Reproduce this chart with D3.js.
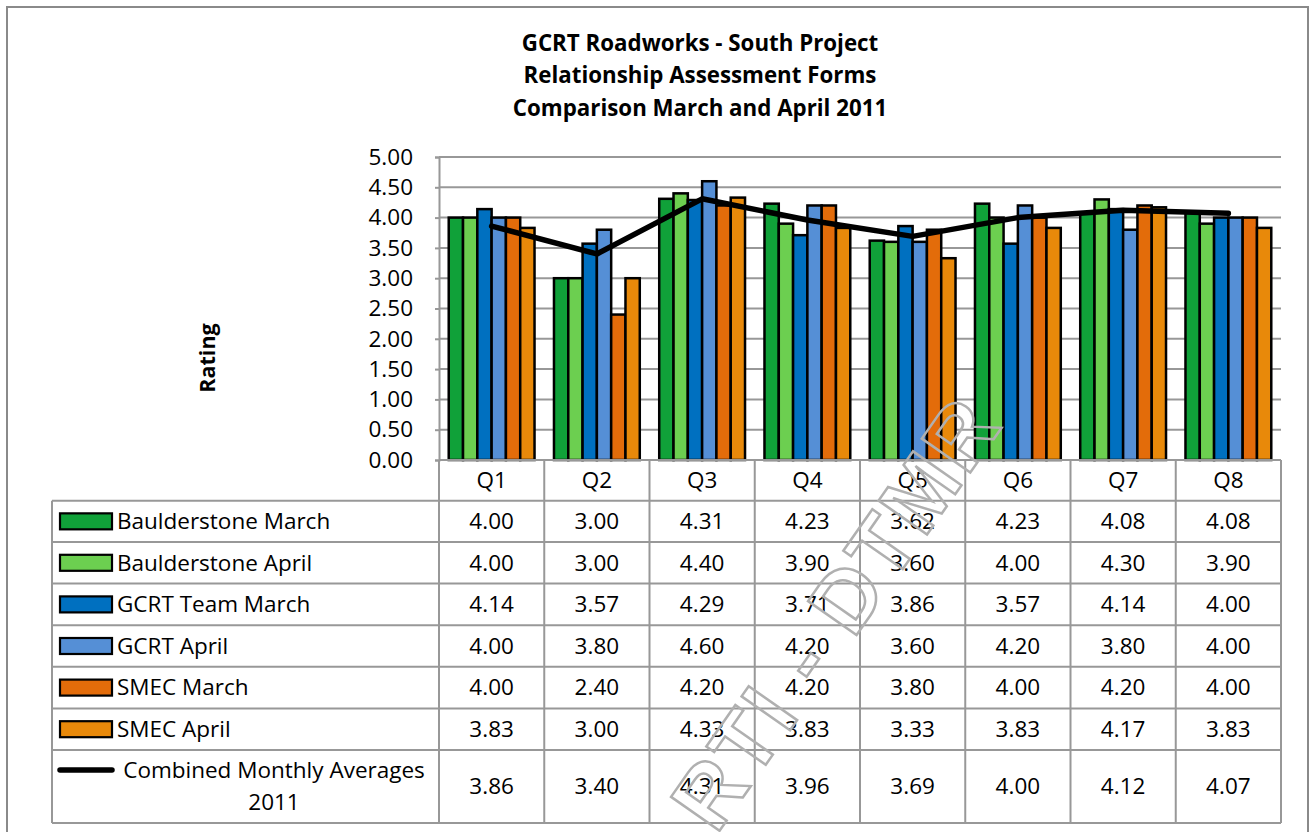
<!DOCTYPE html>
<html><head><meta charset="utf-8">
<script src="https://cdn.jsdelivr.net/npm/d3@7"></script>
<style>
html,body{margin:0;padding:0;background:#fff;}
svg text{font-family:"Open Sans",sans-serif;fill:#000;}
</style></head>
<body><svg id="c" width="1311" height="832"></svg>
<script>
const categories = ["Q1","Q2","Q3","Q4","Q5","Q6","Q7","Q8"];
const seriesNames = ["Baulderstone March","Baulderstone April","GCRT Team March","GCRT April","SMEC March","SMEC April"];
const baulderstoneMarch = [4.00,3.00,4.31,4.23,3.62,4.23,4.08,4.08];
const baulderstoneApril = [4.00,3.00,4.40,3.90,3.60,4.00,4.30,3.90];
const gcrtTeamMarch     = [4.14,3.57,4.29,3.71,3.86,3.57,4.14,4.00];
const gcrtApril         = [4.00,3.80,4.60,4.20,3.60,4.20,3.80,4.00];
const smecMarch         = [4.00,2.40,4.20,4.20,3.80,4.00,4.20,4.00];
const smecApril         = [3.83,3.00,4.33,3.83,3.33,3.83,4.17,3.83];
const lineName = "Combined Monthly Averages 2011";
const combinedAverages  = [3.86,3.40,4.31,3.96,3.69,4.00,4.12,4.07];
const yTicks = [0,0.5,1,1.5,2,2.5,3,3.5,4,4.5,5];
const titleLines = ["GCRT Roadworks - South Project","Relationship Assessment Forms","Comparison March and April 2011"];
const colors = ["#10A139","#6CCF50","#0070C0","#558FD6","#E36C0A","#E8890A"];

const seriesValues = [baulderstoneMarch,baulderstoneApril,gcrtTeamMarch,gcrtApril,smecMarch,smecApril];

const svg = d3.select("#c");
const grid = "#989898";
const L = 439, R = 1281, T = 157, B = 460;
const tableLeft = 52;
const rowLines = [500.7,542,583.6,625.2,666.8,708.4,750,823];
const FS = 22.5;

// outer frame
svg.append("rect").attr("x",7).attr("y",7).attr("width",1301).attr("height",840)
  .attr("fill","#fff").attr("stroke","#8a8a8a").attr("stroke-width",2);

// title
const title = svg.append("text").attr("text-anchor","middle").attr("font-weight","bold").attr("font-size",22.3);
titleLines.forEach((t,i)=>title.append("tspan").attr("x",700).attr("y",51+i*32.3).text(t));

const x0 = d3.scaleBand().domain(categories).range([L,R]);
const bw = x0.bandwidth();
const gap = bw*(1.36/(6+1.36));
const x1 = d3.scaleBand().domain(seriesNames).range([gap/2,bw-gap/2]);
const y = d3.scaleLinear().domain([0,5]).range([B,T]);

// gridlines
svg.append("g").selectAll("line").data(yTicks.filter(d=>d>0)).join("line")
  .attr("x1",L).attr("x2",R).attr("y1",d=>y(d)).attr("y2",d=>y(d))
  .attr("stroke",grid).attr("stroke-width",2);

// y axis
const yAxis = d3.axisLeft(y).tickValues(yTicks).tickFormat(d3.format(".2f")).tickSize(4).tickPadding(22);
const ya = svg.append("g").attr("transform",`translate(${L},0)`).call(yAxis);
ya.select(".domain").attr("stroke",grid).attr("stroke-width",2);
ya.selectAll(".tick line").attr("stroke",grid).attr("stroke-width",2);
ya.selectAll(".tick text").attr("font-size",FS).attr("fill","#000");

// y label
svg.append("text").attr("transform","translate(215,358) rotate(-90)").attr("text-anchor","middle")
  .attr("font-weight","bold").attr("font-size",21.5).text("Rating");

// bars
const gb = svg.append("g");
seriesValues.forEach((vals,si)=>{
  gb.append("g").selectAll("rect").data(vals).join("rect")
    .attr("x",(d,i)=>x0(categories[i])+x1(seriesNames[si]))
    .attr("y",d=>y(d)).attr("width",x1.bandwidth()).attr("height",d=>B-y(d))
    .attr("fill",colors[si]).attr("stroke","#000").attr("stroke-width",2.5);
});

// line
const line = d3.line().x((d,i)=>x0(categories[i])+bw/2).y(d=>y(d));
svg.append("path").datum(combinedAverages).attr("d",line).attr("fill","none")
  .attr("stroke","#000").attr("stroke-width",5.5).attr("stroke-linecap","round").attr("stroke-linejoin","round");

// x axis line
svg.append("line").attr("x1",L).attr("x2",R).attr("y1",B).attr("y2",B).attr("stroke",grid).attr("stroke-width",2);

// table
const tg = svg.append("g");
rowLines.forEach(yy=>tg.append("line").attr("x1",tableLeft).attr("x2",R).attr("y1",yy).attr("y2",yy).attr("stroke",grid).attr("stroke-width",2));
const colEdges = categories.map(c=>x0(c)).concat([R]);
colEdges.forEach(xx=>tg.append("line").attr("x1",xx).attr("x2",xx).attr("y1",B).attr("y2",rowLines[rowLines.length-1]).attr("stroke",grid).attr("stroke-width",2));
tg.append("line").attr("x1",tableLeft).attr("x2",tableLeft).attr("y1",rowLines[0]).attr("y2",rowLines[rowLines.length-1]).attr("stroke",grid).attr("stroke-width",2);

// header
tg.append("g").selectAll("text").data(categories).join("text")
  .attr("x",d=>x0(d)+bw/2).attr("y",(B+rowLines[0])/2).attr("dy","0.35em")
  .attr("text-anchor","middle").attr("font-size",FS).text(d=>d);

const fmt = d3.format(".2f");
const allRows = seriesValues.concat([combinedAverages]);
allRows.forEach((vals,ri)=>{
  const cy = (rowLines[ri]+rowLines[ri+1])/2;
  tg.append("g").selectAll("text").data(vals).join("text")
    .attr("x",(d,i)=>x0(categories[i])+bw/2).attr("y",cy).attr("dy","0.35em")
    .attr("text-anchor","middle").attr("font-size",FS).text(d=>fmt(d));
  if (ri < seriesNames.length) {
    tg.append("rect").attr("x",60).attr("y",cy-8).attr("width",52).attr("height",16)
      .attr("fill",colors[ri]).attr("stroke","#000").attr("stroke-width",2.2);
    tg.append("text").attr("x",117).attr("y",cy).attr("dy","0.35em").attr("font-size",FS).text(seriesNames[ri]);
  } else {
    tg.append("line").attr("x1",60).attr("x2",112).attr("y1",770).attr("y2",770)
      .attr("stroke","#000").attr("stroke-width",5.5).attr("stroke-linecap","round");
    const t = tg.append("text").attr("text-anchor","middle").attr("font-size",FS);
    t.append("tspan").attr("x",274).attr("y",778).text("Combined Monthly Averages");
    t.append("tspan").attr("x",274).attr("y",810).text("2011");
  }
});

// watermark
svg.append("text").attr("transform","translate(836,612) rotate(-55)")
  .attr("text-anchor","middle").attr("dy","0.35em")
  .style("font-family","'Liberation Sans',Arial,sans-serif").style("font-weight","bold").attr("font-size",86)
  .style("letter-spacing","4px")
  .style("fill","none").attr("stroke","#b0b0b0").attr("stroke-width",2.5)
  .text("RTI - DTMR");
</script></body></html>
